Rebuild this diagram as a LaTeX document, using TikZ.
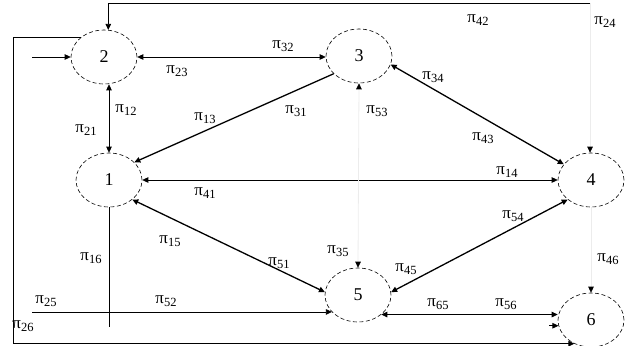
\documentclass[tikz,border=0pt]{standalone}
\usepackage{fontspec}
\setmainfont{Liberation Serif}
\usetikzlibrary{arrows.meta,shapes.geometric}
\newcommand\pl[1]{π\raisebox{-0.4ex}{\fontsize{12.5}{12.5}\selectfont #1}}
\begin{document}
\begin{tikzpicture}[x=1pt,y=-1pt,
  >={Triangle[length=6pt,width=5.5pt,color=black]},
  st/.style={ellipse,draw,dash pattern=on 4pt off 2.5pt,minimum width=66pt,minimum height=54pt,inner sep=0pt,font=\fontsize{18}{18}\selectfont,line width=0.6pt},
  ln/.style={line width=0.8pt},
  dg/.style={line width=1.3pt},
  faint/.style={draw=gray!15,line width=0.8pt},
  lb/.style={font=\fontsize{17}{17}\selectfont,inner sep=0pt}]
\useasboundingbox (0,0) rectangle (625,346);
\node[st] (n1) at (109,180) {1};
\node[st] (n2) at (104,57) {2};
\node[st] (n3) at (359,56) {3};
\node[st] (n4) at (591,180) {4};
\node[st] (n5) at (358,295) {5};
\node[st] (n6) at (591,320) {6};
\coordinate (top) at (0,3);
\coordinate (lx) at (13,0);
\coordinate (in2) at (32,57);
\coordinate (in5) at (32,0);
\coordinate (e1) at (109,327);
\coordinate (e6) at (549,0);
% connectors
\draw[ln,<-] (n2.81) -- (n2.81 |- top) -- (n4.92 |- top);
\draw[faint,->] (n4.92 |- top) -- (n4.92);
\draw[ln,->] (n2.140) -- (lx |- n2.140) -- (lx |- n6.235) -- (n6.235);
\draw[ln,->] (in2) -- (n2.west);
\draw[ln,<->] (n2.east) -- (n3.west |- n2.east);
\draw[dg,->] (n3.215) -- (n1.35);
\draw[ln,<->] (n1.north |- n2.south) -- (n1.north);
\draw[ln,<->] (n1.east) -- (n4.west);
\draw[dg,<->] (n3.-15) -- (n4.150);
\draw[dg,<->] (n1.-40) -- (n5.175);
\draw[dg,<->] (n4.220) -- (n5.5);
\draw[ln,<->] (n5.-40) -- (n6.west |- n5.-40);
\draw[ln,->] (n5.213 -| in5) -- (n5.213);
\draw[ln] (n1.south) -- (e1);
\draw[faint,<->] (n3.south) -- (n5.north);
\draw[faint,->] (n4.south) -- (n6.north);
\draw[ln,->] (e6 |- n6.190) -- (n6.190);
% labels
\node[lb] (l42) at (478,20) {\pl{42}};
\node[lb] (l24) at (605,22) {\pl{24}};
\node[lb] (l32) at (283,46) {\pl{32}};
\node[lb] (l23) at (177,71) {\pl{23}};
\node[lb] (l12) at (126,110) {\pl{12}};
\node[lb] (l21) at (86,130) {\pl{21}};
\node[lb] (l13) at (205,118) {\pl{13}};
\node[lb] (l31) at (296,111) {\pl{31}};
\node[lb] (l53) at (377,111) {\pl{53}};
\node[lb] (l34) at (433,77) {\pl{34}};
\node[lb] (l43) at (483,138) {\pl{43}};
\node[lb] (l14) at (507,172) {\pl{14}};
\node[lb] (l41) at (205,193) {\pl{41}};
\node[lb] (l15) at (170,241) {\pl{15}};
\node[lb] (l51) at (279,263) {\pl{51}};
\node[lb] (l16) at (91,258) {\pl{16}};
\node[lb] (l25) at (46,301) {\pl{25}};
\node[lb] (l52) at (166,301) {\pl{52}};
\node[lb] (l26) at (23,326) {\pl{26}};
\node[lb] (l35) at (338,251) {\pl{35}};
\node[lb] (l45) at (406,269) {\pl{45}};
\node[lb] (l54) at (513,216) {\pl{54}};
\node[lb] (l46) at (608,259) {\pl{46}};
\node[lb] (l65) at (438,304) {\pl{65}};
\node[lb] (l56) at (506,304) {\pl{56}};
\end{tikzpicture}
\end{document}
